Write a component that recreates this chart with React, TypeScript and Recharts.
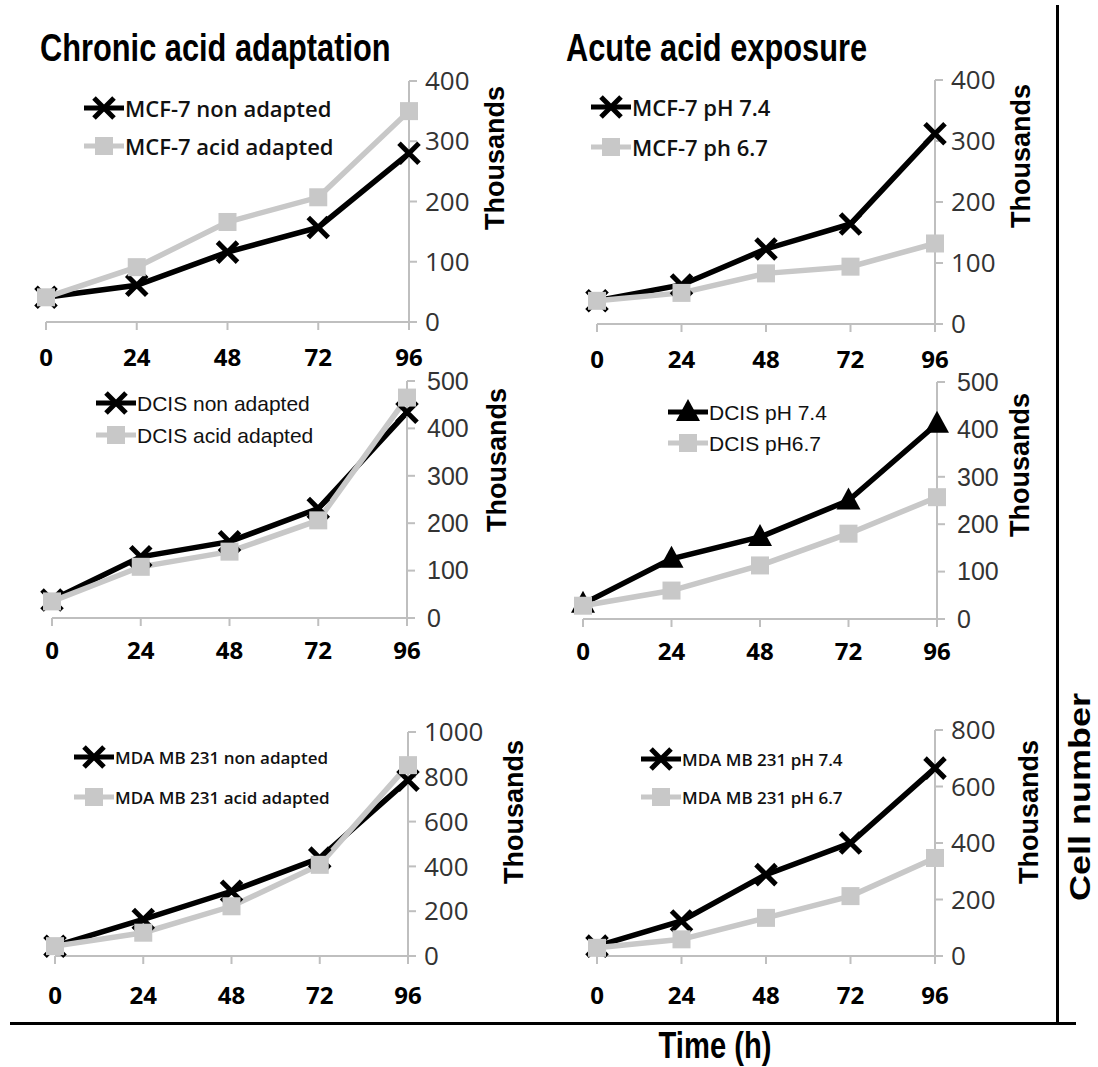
import React from 'react';
import { LineChart, Line, XAxis, YAxis, Legend } from 'recharts';

// ---------- data ----------
const hours = [0, 24, 48, 72, 96];

const mcf7NonAdapted = [41, 61, 116, 157, 280];
const mcf7AcidAdapted = [41, 91, 166, 207, 350];
const mcf7pH74 = [38, 64, 123, 164, 312];
const mcf7pH67 = [38, 51, 83, 94, 132];

const dcisNonAdapted = [38, 129, 161, 231, 434];
const dcisAcidAdapted = [35, 108, 140, 206, 465];
const dcisPH74 = [32, 127, 173, 250, 412];
const dcisPH67 = [28, 60, 113, 180, 257];

const mdaNonAdapted = [44, 163, 289, 437, 785];
const mdaAcidAdapted = [44, 104, 222, 407, 852];
const mdaPH74 = [35, 124, 288, 400, 665];
const mdaPH67 = [29, 59, 135, 212, 347];

const ticks400 = [0, 100, 200, 300, 400];
const ticks500 = [0, 100, 200, 300, 400, 500];
const ticks1000 = [0, 200, 400, 600, 800, 1000];
const ticks800 = [0, 200, 400, 600, 800];

// ---------- styles ----------
const BLACK = '#000000';
const GRAY = '#c8c8c8';
const AXIS = '#bfbfbf';

type Marker = 'x' | 'square' | 'triangle';
type Series = { name: string; values: number[]; color: string; marker: Marker };

const panels = [
  {
    plot: { l: 46, r: 409, t: 81, b: 322 },
    yTicks: ticks400,
    series: [
      { name: 'MCF-7 non adapted', values: mcf7NonAdapted, color: BLACK, marker: 'x' },
      { name: 'MCF-7 acid adapted', values: mcf7AcidAdapted, color: GRAY, marker: 'square' },
    ] as Series[],
    legend: { x: 84, y: 108, gap: 38, font: 'Open Sans', size: 22, weight: 600 },
    thousands: { dx: 86, cy: 158 },
    yFont: 'Open Sans',
    ySize: 26,
    yMargin: 8,
    xMargin: 19,
  },
  {
    plot: { l: 597, r: 935, t: 80, b: 324 },
    yTicks: ticks400,
    series: [
      { name: 'MCF-7 pH 7.4', values: mcf7pH74, color: BLACK, marker: 'x' },
      { name: 'MCF-7 ph 6.7', values: mcf7pH67, color: GRAY, marker: 'square' },
    ] as Series[],
    legend: { x: 591, y: 107, gap: 40, font: 'Open Sans', size: 22, weight: 600 },
    thousands: { dx: 86, cy: 156 },
    yFont: 'Open Sans',
    ySize: 26,
    yMargin: 8,
    xMargin: 19,
  },
  {
    plot: { l: 52, r: 407, t: 381, b: 618 },
    yTicks: ticks500,
    series: [
      { name: 'DCIS non adapted', values: dcisNonAdapted, color: BLACK, marker: 'x' },
      { name: 'DCIS acid adapted', values: dcisAcidAdapted, color: GRAY, marker: 'square' },
    ] as Series[],
    legend: { x: 96, y: 403, gap: 32, font: 'Liberation Sans', size: 21, weight: 400 },
    thousands: { dx: 90, cy: 460 },
    yFont: 'Liberation Sans',
    ySize: 25,
    yMargin: 12,
    xMargin: 16,
  },
  {
    plot: { l: 583, r: 937, t: 382, b: 619 },
    yTicks: ticks500,
    series: [
      { name: 'DCIS pH 7.4', values: dcisPH74, color: BLACK, marker: 'triangle' },
      { name: 'DCIS pH6.7', values: dcisPH67, color: GRAY, marker: 'square' },
    ] as Series[],
    legend: { x: 668, y: 412, gap: 31, font: 'Liberation Sans', size: 21, weight: 400 },
    thousands: { dx: 83, cy: 465 },
    yFont: 'Liberation Sans',
    ySize: 25,
    yMargin: 12,
    xMargin: 16,
  },
  {
    plot: { l: 55, r: 408, t: 732, b: 956 },
    yTicks: ticks1000,
    series: [
      { name: 'MDA MB 231 non adapted', values: mdaNonAdapted, color: BLACK, marker: 'x' },
      { name: 'MDA MB 231 acid adapted', values: mdaAcidAdapted, color: GRAY, marker: 'square' },
    ] as Series[],
    legend: { x: 74, y: 757, gap: 40, font: 'Open Sans', size: 17, weight: 600 },
    thousands: { dx: 106, cy: 812 },
    yFont: 'Open Sans',
    ySize: 26,
    yMargin: 8,
    xMargin: 23,
  },
  {
    plot: { l: 597, r: 935, t: 730, b: 956 },
    yTicks: ticks800,
    series: [
      { name: 'MDA MB 231 pH 7.4', values: mdaPH74, color: BLACK, marker: 'x' },
      { name: 'MDA MB 231 pH 6.7', values: mdaPH67, color: GRAY, marker: 'square' },
    ] as Series[],
    legend: { x: 641, y: 759, gap: 38, font: 'Open Sans', size: 17, weight: 600 },
    thousands: { dx: 94, cy: 812 },
    yFont: 'Open Sans',
    ySize: 26,
    yMargin: 8,
    xMargin: 23,
  },
];

const ML = 25;
const MT = 18;
const YW = 130;
const XH = 60;

function markerShape(kind: Marker, color: string, cx: number, cy: number, key?: string) {
  if (kind === 'x') {
    const s = 10;
    return (
      <path
        key={key}
        d={`M${cx - s},${cy - s}L${cx + s},${cy + s}M${cx - s},${cy + s}L${cx + s},${cy - s}`}
        stroke={color}
        strokeWidth={5}
        fill="none"
      />
    );
  }
  if (kind === 'triangle') {
    return <path key={key} d={`M${cx},${cy - 13}L${cx + 12},${cy + 9}L${cx - 12},${cy + 9}Z`} fill={color} />;
  }
  return <rect key={key} x={cx - 9} y={cy - 9} width={18} height={18} fill={color} />;
}

const makeDot = (kind: Marker, color: string) => (props: any) => {
  const { cx, cy, index } = props;
  if (cx == null || cy == null) return <g key={`d-${index}`} />;
  return markerShape(kind, color, cx, cy, `d-${index}`);
};

function Panel({ p }: { p: (typeof panels)[number] }) {
  const { l, r, t, b } = p.plot;
  const left = l - ML;
  const top = t - MT;
  const width = r - l + ML + YW;
  const height = b - t + MT + XH;
  const data = hours.map((h, i) => {
    const row: any = { h };
    p.series.forEach((s, k) => {
      row[`s${k}`] = s.values[i];
    });
    return row;
  });
  const lg = p.legend;
  const renderLegend = () => (
    <div style={{ fontFamily: lg.font, fontSize: lg.size, fontWeight: lg.weight, color: '#111' }}>
      {p.series.map((s) => (
        <div key={s.name} style={{ display: 'flex', alignItems: 'center', height: lg.gap, whiteSpace: 'nowrap' }}>
          <svg width={40} height={26} style={{ flex: 'none' }}>
            <line x1={0} y1={13} x2={40} y2={13} stroke={s.color} strokeWidth={5} />
            {markerShape(s.marker, s.color, 20, 13)}
          </svg>
          <span style={{ marginLeft: 1, lineHeight: 1 }}>{s.name}</span>
        </div>
      ))}
    </div>
  );
  const thousandsLabel = (props: any) => {
    const vb = props.viewBox || {};
    const x = vb.x + p.thousands.dx;
    const y = vb.y + (p.thousands.cy - t);
    return (
      <text
        x={x}
        y={y}
        transform={`rotate(-90, ${x}, ${y})`}
        textAnchor="middle"
        dominantBaseline="central"
        fontFamily="Liberation Sans"
        fontWeight={700}
        fontSize={27}
        fill="#000"
      >
        Thousands
      </text>
    );
  };
  return (
    <div style={{ position: 'absolute', left, top }}>
      <LineChart width={width} height={height} data={data} margin={{ top: MT, left: ML, right: 0, bottom: 0 }}>
        <XAxis
          dataKey="h"
          type="number"
          domain={[0, 96]}
          ticks={hours}
          interval={0}
          height={XH}
          stroke={AXIS}
          strokeWidth={2}
          tickSize={8}
          tickMargin={p.xMargin}
          tick={{ fill: '#000', fontSize: 24, fontWeight: 700, fontFamily: 'Open Sans' }}
        />
        <YAxis
          orientation="right"
          type="number"
          domain={[0, p.yTicks[p.yTicks.length - 1]]}
          ticks={p.yTicks}
          interval={0}
          width={YW}
          stroke={AXIS}
          strokeWidth={2}
          tickSize={8}
          tickMargin={p.yMargin}
          tick={{ fill: '#333', fontSize: p.ySize, fontFamily: p.yFont }}
          label={{ content: thousandsLabel }}
        />
        <Legend
          layout="vertical"
          align="center"
          verticalAlign="middle"
          wrapperStyle={{ position: 'absolute', left: lg.x - left, top: lg.y - lg.gap / 2 - top, width: 'auto', height: 'auto' }}
          content={renderLegend}
        />
        {p.series.map((s, k) => (
          <Line
            key={s.name}
            name={s.name}
            type="linear"
            dataKey={`s${k}`}
            stroke={s.color}
            strokeWidth={5.5}
            dot={makeDot(s.marker, s.color)}
            activeDot={false}
            isAnimationActive={false}
          />
        ))}
      </LineChart>
    </div>
  );
}

const titleStyle: React.CSSProperties = {
  position: 'absolute',
  top: 29,
  fontFamily: 'Liberation Sans',
  fontWeight: 700,
  fontSize: 38,
  lineHeight: 1,
  whiteSpace: 'nowrap',
  color: '#000',
  transform: 'scaleX(0.81)',
  transformOrigin: '0 0',
};

export default function App() {
  return (
    <div style={{ position: 'absolute', left: 0, top: 0, width: 1098, height: 1067, background: '#fff', overflow: 'hidden' }}>
      <div style={{ ...titleStyle, left: 40 }}>Chronic acid adaptation</div>
      <div style={{ ...titleStyle, left: 566 }}>Acute acid exposure</div>
      {panels.map((p, i) => (
        <Panel key={i} p={p} />
      ))}
      <div style={{ position: 'absolute', left: 1056, top: 5, width: 3, height: 1020, background: '#000' }} />
      <div style={{ position: 'absolute', left: 10, top: 1022, width: 1066, height: 3, background: '#000' }} />
      <div
        style={{
          position: 'absolute',
          left: 1080,
          top: 797,
          transform: 'translate(-50%, -50%) scaleX(0.81) rotate(-90deg)',
          fontFamily: 'Liberation Sans',
          fontWeight: 700,
          fontSize: 36,
          lineHeight: 1,
          whiteSpace: 'nowrap',
        }}
      >
        Cell number
      </div>
      <div
        style={{
          position: 'absolute',
          left: 715,
          top: 1046,
          transform: 'translate(-50%, -50%) scaleX(0.81)',
          fontFamily: 'Liberation Sans',
          fontWeight: 700,
          fontSize: 36,
          lineHeight: 1.1,
          whiteSpace: 'nowrap',
        }}
      >
        Time (h)
      </div>
    </div>
  );
}
